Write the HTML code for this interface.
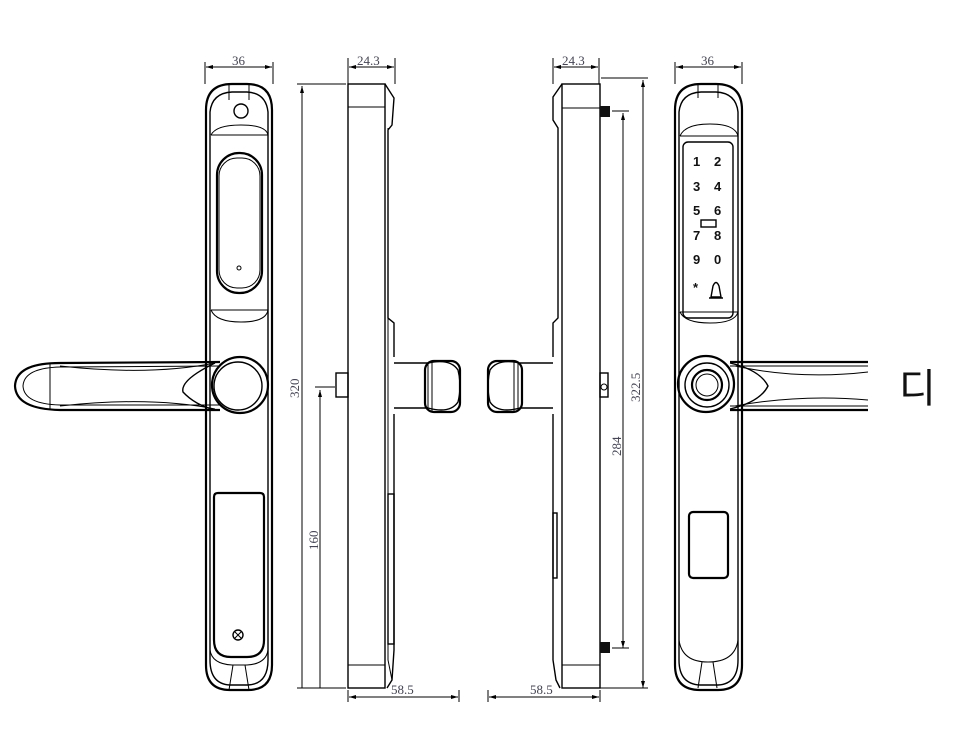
<!DOCTYPE html>
<html><head><meta charset="utf-8"><style>
html,body{margin:0;padding:0;background:#fff}
svg{display:block}
.d{fill:none;stroke:#000;stroke-width:1}
.t{stroke:#000;stroke-width:2.2;fill:none}
.m{stroke:#000;stroke-width:1.4;fill:none}
.dim{font-family:"Liberation Serif",serif;font-size:13px;fill:#445}
.k{font-family:"Liberation Sans",sans-serif;font-size:13px;font-weight:bold;fill:#111}
</style></head><body>
<svg width="956" height="731" viewBox="0 0 956 731" xmlns="http://www.w3.org/2000/svg">
<defs>
<marker id="a" markerWidth="7" markerHeight="4" refX="7" refY="2" orient="auto-start-reverse" markerUnits="userSpaceOnUse"><path d="M0,0 L7,2 L0,4 z" fill="#000"/></marker>
</defs>

<line class="d" x1="205" y1="62" x2="205" y2="84"/><line class="d" x1="273" y1="62" x2="273" y2="84"/>
<line class="d" x1="206" y1="67" x2="272" y2="67" marker-start="url(#a)" marker-end="url(#a)"/>
<text class="dim" x="232" y="65">36</text>
<path class="t" d="M206,110 Q206,84 232,84 L247,84 Q272,84 272,110 L272,665 Q272,690 248,690 L230,690 Q206,690 206,665 Z"/>
<path class="m" d="M210,112 Q212,93 232,92 L247,92 Q266,93 268,112 L268,660 Q268,684 248,685 L230,685 Q210,684 210,660 Z"/>
<line class="d" x1="229" y1="84" x2="229" y2="100"/><line class="d" x1="249" y1="84" x2="249" y2="100"/>
<circle class="m" cx="241" cy="111" r="7"/>
<path class="d" d="M211,135 Q216,125 241,125 Q266,125 268,135 L211,135"/>
<path class="d" d="M211,310 Q216,322 241,322 Q266,322 268,310 L211,310"/>
<rect class="t" x="217" y="153" width="45" height="140" rx="22"/>
<rect class="d" x="219" y="158" width="41" height="130" rx="18"/>
<circle class="d" cx="239" cy="268" r="2"/>
<path class="t" d="M220,362 L60,363 Q16,363 15,386 Q16,409 60,410 L220,410"/>
<path class="d" d="M220,366 L60,367 Q24,368 23,386 Q24,404 60,405 L220,405"/>
<line class="d" x1="50" y1="364" x2="50" y2="409"/>
<path class="d" d="M60,366 Q150,376 215,363 M60,406 Q150,396 215,409"/>
<path class="m" d="M215,363 Q180,380 183,392 Q195,405 215,410"/>
<circle class="t" cx="240" cy="385" r="28"/>
<circle class="m" cx="238" cy="386" r="24"/>
<path class="t" d="M214,497 Q214,493 218,493 L260,493 Q264,493 264,497 L264,640 Q264,657 247,657 L231,657 Q214,657 214,640 Z"/>
<circle class="m" cx="238" cy="635" r="5"/>
<path class="d" d="M235,632 l6,6 M241,632 l-6,6"/>
<path class="d" d="M210,650 Q212,664 232,665 L247,665 Q266,664 268,650"/>
<line class="d" x1="233" y1="665" x2="229" y2="690"/><line class="d" x1="245" y1="665" x2="249" y2="690"/>

<line class="d" x1="348" y1="58" x2="348" y2="84"/><line class="d" x1="395" y1="58" x2="395" y2="84"/>
<line class="d" x1="349" y1="67" x2="394" y2="67" marker-start="url(#a)" marker-end="url(#a)"/>
<text class="dim" x="357" y="65">24.3</text>
<line class="d" x1="297" y1="84" x2="346" y2="84"/>
<line class="d" x1="302" y1="86" x2="302" y2="688" marker-start="url(#a)"/>
<text class="dim" transform="translate(299,398) rotate(-90)">320</text>
<line class="d" x1="315" y1="387" x2="335" y2="387"/>
<line class="d" x1="320" y1="390" x2="320" y2="688" marker-start="url(#a)"/>
<text class="dim" transform="translate(318,550) rotate(-90)">160</text>
<line class="d" x1="297" y1="688" x2="346" y2="688"/>
<rect class="m" x="348" y="84" width="37" height="604"/>
<line class="d" x1="348" y1="107" x2="385" y2="107"/>
<line class="d" x1="348" y1="665" x2="385" y2="665"/>
<path class="m" d="M385,84 L394,98 L392,125 L388,130 L388,318 L394,323 L394,357"/>
<path class="m" d="M394,414 L394,650 L392,680 L387,688"/>
<path class="d" d="M388,128 L388,660 L392,680"/>
<rect class="m" x="388" y="494" width="6" height="150"/>
<rect class="m" x="336" y="373" width="12" height="24"/>
<path class="m" d="M394,363 L428,363 Q450,358 458,370 Q462,386 458,402 Q450,414 428,408 L394,408"/>
<rect class="t" x="425" y="361" width="35" height="51" rx="9"/>
<path class="d" d="M428,363 L428,409 M432,362 L432,411"/>
<line class="d" x1="348" y1="690" x2="348" y2="702"/><line class="d" x1="459" y1="690" x2="459" y2="702"/>
<line class="d" x1="349" y1="697" x2="458" y2="697" marker-start="url(#a)" marker-end="url(#a)"/>
<text class="dim" x="391" y="694">58.5</text>

<line class="d" x1="553" y1="58" x2="553" y2="84"/><line class="d" x1="599" y1="58" x2="599" y2="84"/>
<line class="d" x1="554" y1="67" x2="598" y2="67" marker-start="url(#a)" marker-end="url(#a)"/>
<text class="dim" x="562" y="65">24.3</text>
<line class="d" x1="601" y1="78" x2="648" y2="78"/>
<line class="d" x1="643" y1="80" x2="643" y2="688" marker-start="url(#a)" marker-end="url(#a)"/>
<text class="dim" transform="translate(640,402) rotate(-90)">322.5</text>
<line class="d" x1="612" y1="111" x2="629" y2="111"/>
<line class="d" x1="623" y1="113" x2="623" y2="648" marker-start="url(#a)" marker-end="url(#a)"/>
<text class="dim" transform="translate(621,456) rotate(-90)">284</text>
<line class="d" x1="612" y1="648" x2="629" y2="648"/>
<line class="d" x1="600" y1="688" x2="648" y2="688"/>
<rect class="m" x="562" y="84" width="38" height="604"/>
<line class="d" x1="562" y1="108" x2="600" y2="108"/>
<line class="d" x1="562" y1="665" x2="600" y2="665"/>
<path class="m" d="M562,84 L553,97 L553,120 L558,128 L558,318 L553,323 L553,357"/>
<path class="m" d="M553,414 L553,660 L556,680 L560,688"/>
<rect class="m" x="553" y="513" width="4" height="65"/>
<rect x="600" y="106" width="10" height="11" fill="#111"/>
<rect x="600" y="642" width="10" height="11" fill="#111"/>
<rect class="m" x="600" y="373" width="8" height="24"/>
<circle class="d" cx="604" cy="387" r="3"/>
<path class="m" d="M553,363 L520,363 Q498,358 490,370 Q486,386 490,402 Q498,414 520,408 L553,408"/>
<rect class="t" x="488" y="361" width="34" height="51" rx="9"/>
<path class="d" d="M518,363 L518,409 M514,362 L514,411"/>
<line class="d" x1="488" y1="690" x2="488" y2="702"/><line class="d" x1="600" y1="690" x2="600" y2="702"/>
<line class="d" x1="489" y1="697" x2="599" y2="697" marker-start="url(#a)" marker-end="url(#a)"/>
<text class="dim" x="530" y="694">58.5</text>

<line class="d" x1="675" y1="62" x2="675" y2="84"/><line class="d" x1="742" y1="62" x2="742" y2="84"/>
<line class="d" x1="676" y1="67" x2="741" y2="67" marker-start="url(#a)" marker-end="url(#a)"/>
<text class="dim" x="701" y="65">36</text>
<path class="t" d="M675,110 Q675,84 701,84 L716,84 Q742,84 742,110 L742,665 Q742,690 718,690 L700,690 Q675,690 675,665 Z"/>
<path class="m" d="M679,112 Q681,93 701,92 L716,92 Q736,93 738,112 L738,660 Q738,684 718,685 L700,685 Q679,684 679,660 Z"/>
<line class="d" x1="698" y1="84" x2="698" y2="98"/><line class="d" x1="718" y1="84" x2="718" y2="98"/>
<path class="d" d="M680,136 Q685,124 710,124 Q735,124 738,136 L680,136"/>
<path class="d" d="M680,312 Q685,323 710,323 Q735,323 738,312 L680,312"/>
<rect class="m" x="683" y="142" width="50" height="176" rx="5"/>
<text class="k" x="693" y="166">1</text><text class="k" x="714" y="166">2</text>
<text class="k" x="693" y="191">3</text><text class="k" x="714" y="191">4</text>
<text class="k" x="693" y="215">5</text><text class="k" x="714" y="215">6</text>
<text class="k" x="693" y="240">7</text><text class="k" x="714" y="240">8</text>
<text class="k" x="693" y="264">9</text><text class="k" x="714" y="264">0</text>
<text class="k" x="693" y="292">*</text>
<path class="m" d="M711,297 L713,286 Q716,279 719,286 L721,297 Z M709,298 L723,298"/>
<rect class="m" x="701" y="220" width="15" height="7"/>
<path class="t" d="M730,362 L868,362 M730,410 L868,410"/>
<path class="d" d="M730,366 L868,366 M730,406 L868,406"/>
<path class="d" d="M735,366 Q800,380 868,372 M735,406 Q800,394 868,400"/>
<path class="m" d="M730,363 Q760,370 768,386 Q760,402 730,409"/>
<circle class="t" cx="706" cy="384" r="28"/>
<circle class="m" cx="707" cy="385" r="22"/>
<circle class="t" cx="707" cy="385" r="15"/>
<circle class="d" cx="707" cy="385" r="11"/>
<rect x="868" y="355" width="30" height="60" fill="#fff"/>
<text x="899" y="402" font-family="'Liberation Sans','Noto Sans CJK KR',sans-serif" font-size="40" fill="#111">디</text>
<rect class="t" x="689" y="512" width="39" height="66" rx="4"/>
<path class="d" d="M679,640 Q682,662 708,662 Q735,662 738,640"/>
<line class="d" x1="702" y1="662" x2="698" y2="688"/><line class="d" x1="713" y1="662" x2="717" y2="688"/>
</svg>
</body></html>
